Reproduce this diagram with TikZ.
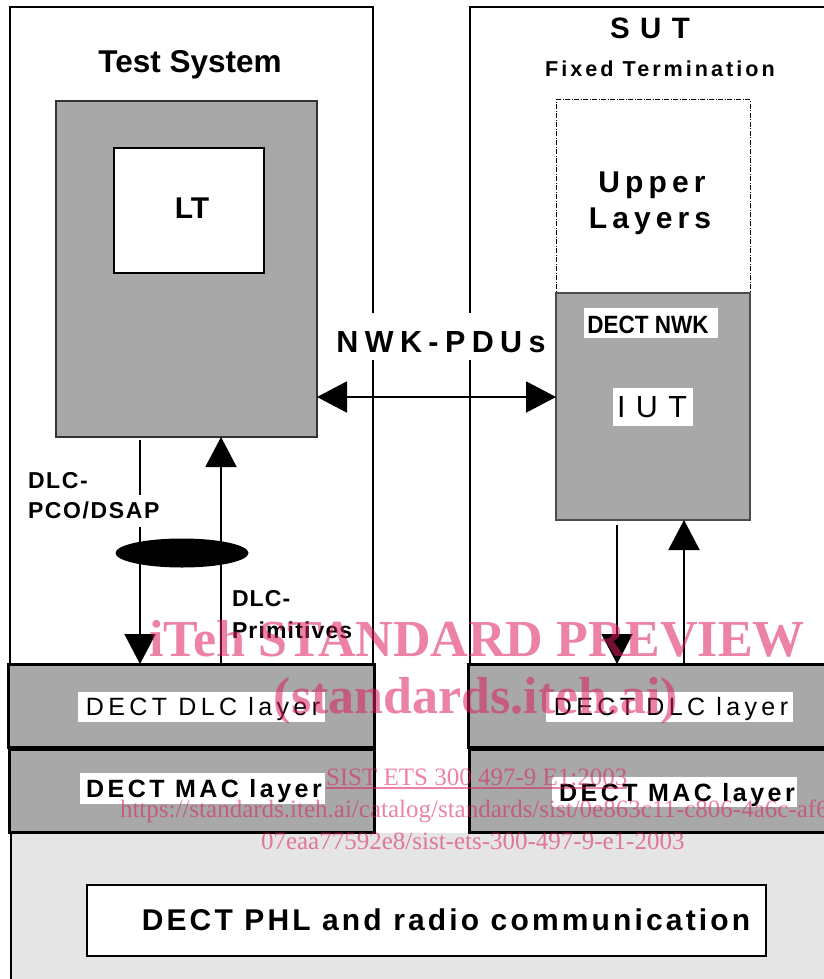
\documentclass[tikz,border=0pt]{standalone}
\usepackage{fontspec}
\setmainfont{Liberation Sans}
\newfontfamily\wmserif{Liberation Serif}
\usetikzlibrary{arrows.meta,shapes.geometric}
\definecolor{boxgray}{RGB}{168,168,168}
\definecolor{lightg}{RGB}{229,229,229}
\definecolor{wm}{RGB}{220,30,90}
\newcommand{\fs}[1]{\fontsize{#1}{#1}\selectfont}
\newcommand{\lsp}[2]{{\addfontfeature{LetterSpace=#1}#2}}
\begin{document}
\begin{tikzpicture}[x=1pt,y=-1pt,
  every node/.style={inner sep=0pt,outer sep=0pt},
  frame/.style={line width=2pt},
  graybox/.style={draw=black!80,line width=1.6pt,fill=boxgray},
  layerbox/.style={draw=black,line width=3pt,fill=boxgray},
  arr/.style={line width=2pt,-{Triangle[length=30pt,width=31pt]}},
  biarr/.style={line width=2pt,{Triangle[length=30pt,width=31pt]}-{Triangle[length=30pt,width=31pt]}},
  wmtext/.style={text=wm,text opacity=0.55}
]
\useasboundingbox (0,0) rectangle (823,979);

% bottom light gray region
\fill[lightg] (11,833) rectangle (830,985);
\draw[frame] (11,833) -- (11,985);

% outer frames
\draw[frame] (10,664) -- (10,7) -- (373,7) -- (373,664);
\draw[frame] (470,664) -- (470,7) -- (830,7);

% titles
\node[anchor=base,font=\bfseries\fs{31.5}] (tstitle) at (190,73) {Test System};
\node[anchor=base,font=\bfseries\fs{29.5}] (suttitle) at (650,39) {\lsp{35}{SUT}};
\node[anchor=base,font=\bfseries\fs{21.6}] (fttitle) at (660,77) {\lsp{14}{Fixed Termination}};

% Test system LT container
\node[graybox,minimum width=261pt,minimum height=336pt] (ltc) at (186.5,269) {};
\node[draw,line width=2pt,fill=white,minimum width=150pt,minimum height=125pt] (ltbox) at (189,210.5) {};
\node[anchor=base,font=\bfseries\fs{30}] (lttext) at (192,218) {LT};

% Upper layers (dash-dot)
\node[draw,line width=1pt,dash pattern=on 5pt off 1.5pt on 1pt off 1.5pt,minimum width=194pt,minimum height=193pt] (upper) at (653,196.5) {};
\node[anchor=base,font=\bfseries\fs{30}] (uptext1) at (652,192) {\lsp{17}{Upper}};
\node[anchor=base,font=\bfseries\fs{30}] (uptext2) at (650,228) {\lsp{17}{Layers}};

% IUT box
\node[draw=black!70,line width=1.5pt,fill=boxgray,minimum width=194pt,minimum height=227pt] (iut) at (653,406.5) {};
\fill[white] (584,308) rectangle (718,338);
\node[anchor=base,font=\bfseries\fs{25}] (nwktext) at (648,333) {\scalebox{0.9}[1]{DECT NWK}};
\fill[white] (613,388) rectangle (693,426);
\node[anchor=base,font=\fs{30.5}] (iuttext) at (652,417) {\lsp{34}{IUT}};

% layer boxes
\node[layerbox,minimum width=366pt,minimum height=83pt] (dlcL) at (191,705.5) {};
\node[layerbox,minimum width=365pt,minimum height=83pt] (macL) at (191.5,790.5) {};
\node[layerbox,minimum width=370pt,minimum height=83pt] (dlcR) at (653,705.5) {};
\node[layerbox,minimum width=370pt,minimum height=83pt] (macR) at (654,790.5) {};

\fill[white] (78,692) rectangle (325,722);
\node[anchor=base,font=\fs{25}] (dlcLt) at (203,715) {\lsp{17.5}{DECT DLC layer}};
\fill[white] (546,692) rectangle (793,722);
\node[anchor=base,font=\fs{25}] (dlcRt) at (671,715) {\lsp{17.5}{DECT DLC layer}};
\fill[white] (80,773) rectangle (325,804);
\node[anchor=base,font=\bfseries\fs{25}] (macLt) at (204,797) {\lsp{14}{DECT MAC layer}};
\fill[white] (552,777) rectangle (797,807);
\node[anchor=base,font=\bfseries\fs{25}] (macRt) at (677,801) {\lsp{14}{DECT MAC layer}};

% PHL box
\node[draw,line width=2.5pt,fill=white,minimum width=679pt,minimum height=71pt] (phl) at (426.5,920.5) {};
\node[anchor=base,font=\bfseries\fs{30}] (phltext) at (446,930) {\lsp{10.5}{DECT PHL and radio communication}};

% NWK-PDUs
\fill[white] (330,313) rectangle (548,360);
\node[anchor=base,font=\bfseries\fs{30.5}] (pdutext) at (441,352) {\lsp{21}{NWK-PDUs}};
\draw[biarr] (ltc.east |- 0,397) -- (iut.west |- 0,397);

% left vertical arrows
\coordinate (xa) at (140,0);
\coordinate (xb) at (221,0);
\draw[arr] ([yshift=-3pt]ltc.south -| xa) -- (dlcL.north -| xa);
\draw[arr] (dlcL.north -| xb) -- (ltc.south -| xb);
\fill[white] (26,495) rectangle (162,527);
\node[anchor=base west,font=\bfseries\fs{23}] (pco1) at (28,488) {\lsp{7}{DLC-}};
\node[anchor=base west,font=\bfseries\fs{23}] (pco2) at (28,518) {\lsp{7}{PCO/DSAP}};
\node[ellipse,fill=black,minimum width=133pt,minimum height=29pt] (ell) at (182,553) {};
\node[anchor=base west,font=\bfseries\fs{23}] (prim1) at (232,606) {\lsp{5}{DLC-}};
\node[anchor=base west,font=\bfseries\fs{23}] (prim2) at (232,638) {\lsp{5}{Primitives}};

% right vertical arrows
\coordinate (xc) at (617,0);
\coordinate (xd) at (684,0);
\draw[arr] ([yshift=-5pt]iut.south -| xc) -- (dlcR.north -| xc);
\draw[arr] (dlcR.north -| xd) -- (iut.south -| xd);

% watermark
\node[wmtext,anchor=base,font=\wmserif\bfseries\fs{52}] (wm1) at (477,656) {iTeh STANDARD PREVIEW};
\node[wmtext,anchor=base,font=\wmserif\bfseries\fs{52}] (wm2) at (476,713) {(standards.iteh.ai)};
\node[wmtext,anchor=base west,font=\wmserif\fs{25}] (wm3) at (326,785) {SIST ETS 300 497-9 E1:2003};
\draw[wm,opacity=0.55,line width=1.3pt] (wm3.base west) ++(0,3) -- ++(301,0);
\node[wmtext,anchor=base west,font=\wmserif\fs{25}] (wm4) at (120,817) {https://standards.iteh.ai/catalog/standards/sist/0e863c11-c806-4a6c-af6a-};
\node[wmtext,anchor=base west,font=\wmserif\fs{25}] (wm5) at (261,849) {07eaa77592e8/sist-ets-300-497-9-e1-2003};
\end{tikzpicture}
\end{document}
